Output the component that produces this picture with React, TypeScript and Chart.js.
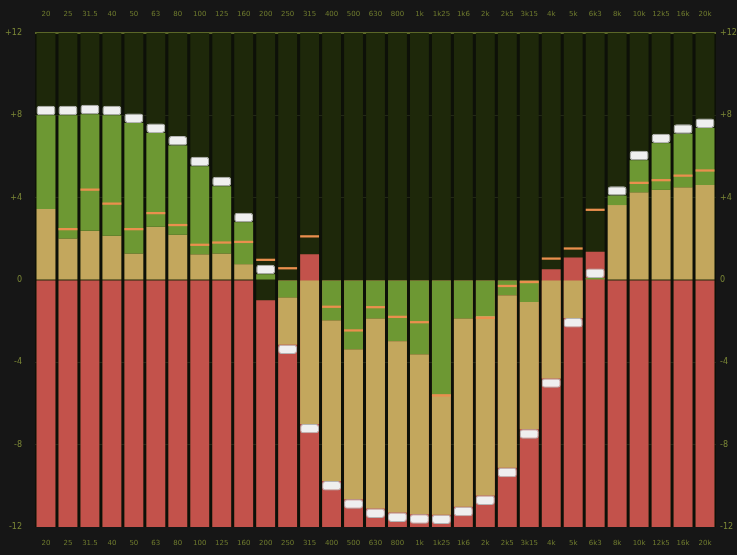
import React, { useEffect, useRef } from 'react';
import { Chart, registerables } from 'chart.js';

Chart.register(...registerables);

const bands = ['20', '25', '31.5', '40', '50', '63', '80', '100', '125', '160', '200', '250', '315', '400', '500', '630', '800', '1k', '1k25', '1k6', '2k', '2k5', '3k15', '4k', '5k', '6k3', '8k', '10k', '12k5', '16k', '20k'];

// level where the white cap sits (end of the tan/green bar)
const capLevel = [8.0, 8.0, 8.05, 8.0, 7.63, 7.14, 6.54, 5.53, 4.56, 2.81, 0.28, -3.14, -6.99, -9.77, -10.65, -11.1, -11.3, -11.38, -11.4, -11.02, -10.47, -9.12, -7.25, -4.78, -1.85, 0.1, 4.1, 5.82, 6.65, 7.11, 7.39];

// boundary between the tan part and the green part
const splitLevel = [3.45, 2.02, 2.39, 2.15, 1.29, 2.59, 2.2, 1.25, 1.29, 0.77, 0, -0.86, 0, -1.97, -3.38, -1.88, -2.97, -3.62, -5.55, -1.88, -1.75, -0.75, -1.07, 0, 0, 0, 3.64, 4.26, 4.38, 4.51, 4.62];

// orange peak markers
const peakLevel = [null, 2.47, 4.39, 3.71, 2.47, 3.25, 2.67, 1.71, 1.82, 1.85, 0.98, 0.57, 2.12, -1.3, -2.45, -1.32, -1.79, -2.05, -5.61, null, -1.84, -0.29, -0.1, 1.04, 1.53, 3.41, null, 4.72, 4.85, 5.07, 5.32];

// top of the red bar (from the -12 floor)
const redTop = [0, 0, 0, 0, 0, 0, 0, 0, 0, 0, -0.98, 0, 1.25, 0, 0, 0, 0, 0, 0, 0, 0, 0, 0, 0.52, 1.09, 1.37, 0, 0, 0, 0, 0];

const yMin = -12;
const yMax = 12;
const yStep = 4;

const CAP_H = 0.46;
const MARK_H = 0.055;

const fmt = (v: number) => (v > 0 ? '+' + v : String(v));

export default function App() {
  const ref = useRef<HTMLCanvasElement>(null);

  useEffect(() => {
    if (!ref.current) return;

    const bgPlugin = {
      id: 'bgfill',
      beforeDraw(chart: any) {
        const { ctx, chartArea } = chart;
        ctx.save();
        ctx.fillStyle = '#161616';
        ctx.fillRect(0, 0, chart.width, chart.height);
        ctx.fillStyle = '#0d1008';
        ctx.fillRect(chartArea.left, chartArea.top, chartArea.right - chartArea.left, chartArea.bottom - chartArea.top);
        ctx.restore();
      },
    };

    const common = {
      grouped: false,
      barPercentage: 0.86,
      categoryPercentage: 1,
      borderWidth: 0,
      borderSkipped: false,
    };

    const bgData = bands.map(() => [yMin, yMax]);
    const redData = redTop.map((r) => [yMin, r]);
    const tanData = bands.map((_, i) => (capLevel[i] >= 0 ? [0, splitLevel[i]] : [splitLevel[i], capLevel[i]]));
    const greenData = bands.map((_, i) => (capLevel[i] >= 0 ? [splitLevel[i], capLevel[i]] : [0, splitLevel[i]]));
    const capData = capLevel.map((c) => (c >= 0 ? [c, c + CAP_H] : [c - CAP_H, c]));
    const peakData = peakLevel.map((p) => (p == null ? null : [p - MARK_H, p + MARK_H]));

    const xTickColor = '#6f7b2e';
    const yTickColor = '#7c8836';

    const chart = new Chart(ref.current, {
      type: 'bar',
      data: {
        labels: bands,
        datasets: [
          { ...common, label: 'bg', data: bgData as any, backgroundColor: '#1e280a', order: 6 },
          { ...common, label: 'red', data: redData as any, backgroundColor: '#c3524b', order: 5 },
          { ...common, label: 'tan', data: tanData as any, backgroundColor: '#c3a75d', order: 4 },
          { ...common, label: 'green', data: greenData as any, backgroundColor: '#6d9833', order: 3 },
          {
            ...common,
            label: 'cap',
            data: capData as any,
            backgroundColor: '#efefef',
            borderColor: '#b4b4b4',
            borderWidth: 1,
            borderRadius: 3,
            order: 1,
          },
          { ...common, label: 'peak', data: peakData as any, backgroundColor: '#ea8f4e', order: 0 },
        ],
      },
      options: {
        animation: false,
        responsive: false,
        maintainAspectRatio: false,
        layout: { padding: 0 },
        plugins: { legend: { display: false }, tooltip: { enabled: false } },
        scales: {
          x: {
            type: 'category',
            position: 'bottom',
            offset: true,
            grid: { display: false, drawTicks: false },
            border: { display: false },
            ticks: {
              color: xTickColor,
              font: { size: 7, family: 'DejaVu Sans' },
              maxRotation: 0,
              autoSkip: false,
              padding: 12,
            },
            afterFit: (s: any) => {
              s.height = 28;
            },
          },
          xTop: {
            type: 'category',
            position: 'top',
            labels: bands,
            offset: true,
            grid: { display: false, drawTicks: false },
            border: { display: false },
            ticks: {
              color: xTickColor,
              font: { size: 7, family: 'DejaVu Sans' },
              maxRotation: 0,
              autoSkip: false,
              padding: 15,
            },
            afterFit: (s: any) => {
              s.height = 33;
            },
          },
          y: {
            type: 'linear',
            position: 'left',
            min: yMin,
            max: yMax,
            z: 1,
            border: { display: false },
            grid: {
              drawTicks: false,
              color: (ctx: any) => {
                const v = ctx.tick ? ctx.tick.value : null;
                if (v === 12) return '#5a6628';
                if (v === 0 || v === -12) return 'rgba(0,0,0,0)';
                return 'rgba(200,215,130,0.12)';
              },
              lineWidth: (ctx: any) => (ctx.tick && ctx.tick.value === 12 ? 2 : 1),
            },
            ticks: {
              stepSize: yStep,
              color: yTickColor,
              font: { size: 8, family: 'DejaVu Sans' },
              padding: 13,
              callback: (v: any) => fmt(Number(v)),
            },
            afterFit: (s: any) => {
              s.width = 35;
            },
          },
          yRight: {
            type: 'linear',
            position: 'right',
            min: yMin,
            max: yMax,
            border: { display: false },
            grid: { display: false, drawTicks: false },
            ticks: {
              stepSize: yStep,
              color: yTickColor,
              font: { size: 8, family: 'DejaVu Sans' },
              padding: 4,
              callback: (v: any) => fmt(Number(v)),
            },
            afterFit: (s: any) => {
              s.width = 21;
            },
          },
        },
      } as any,
      plugins: [bgPlugin],
    });

    return () => chart.destroy();
  }, []);

  return (
    <div style={{ position: 'fixed', left: 0, top: 0, width: 737, height: 555 }}>
      <canvas ref={ref} width={737} height={555} style={{ display: 'block', width: 737, height: 555 }} />
    </div>
  );
}
